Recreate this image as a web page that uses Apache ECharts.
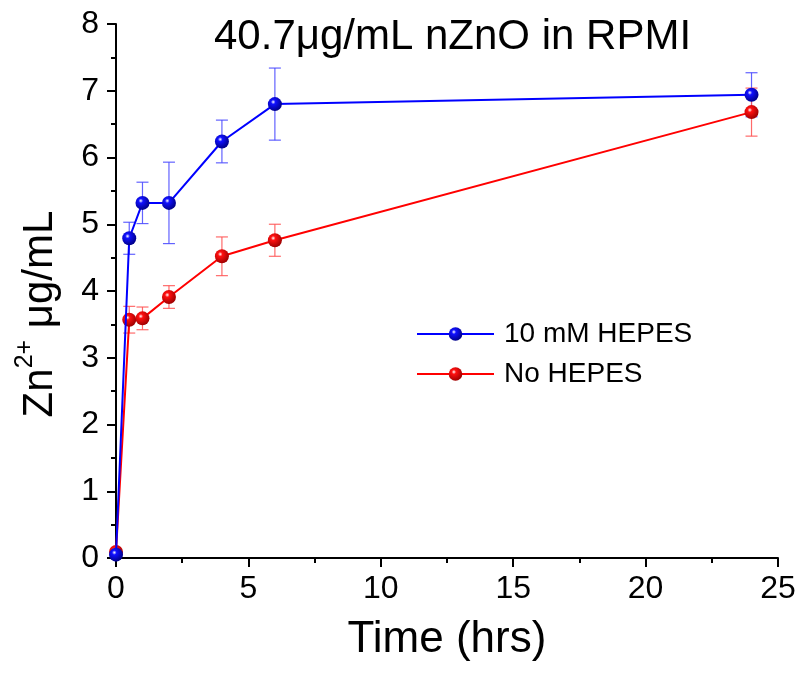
<!DOCTYPE html>
<html>
<head>
<meta charset="utf-8">
<script src="https://cdn.jsdelivr.net/npm/echarts@6/dist/echarts.min.js"></script>
<style>html,body{margin:0;padding:0;background:#fff;}#main{width:800px;height:677px;}</style>
</head>
<body>
<div id="main"></div>
<script>
const timeHrs = [0, 0.5, 1, 2, 4, 6, 24];
const hepes = [0.05, 4.79, 5.32, 5.32, 6.24, 6.80, 6.94];
const hepesErr = [0, 0.24, 0.31, 0.61, 0.32, 0.54, 0.33];
const noHepes = [0.09, 3.57, 3.59, 3.91, 4.52, 4.76, 6.68];
const noHepesErr = [0, 0.20, 0.17, 0.17, 0.29, 0.24, 0.36];
const seriesNames = ['10 mM HEPES', 'No HEPES'];
const titleText = '40.7\u03bcg/mL nZnO in RPMI';

const FONT = 'Liberation Sans, Arial, sans-serif';

function ball(c, dark) {
  return {
    type: 'radial', x: 0.38, y: 0.35, r: 0.65,
    colorStops: [
      { offset: 0, color: '#ffffff' },
      { offset: 0.25, color: c },
      { offset: 1, color: dark }
    ]
  };
}

function errSeries(vals, errs, color) {
  const data = timeHrs.map((t, i) => [t, vals[i], errs[i]]);
  return {
    type: 'custom',
    data: data,
    z: 1,
    silent: true,
    renderItem: function (params, api) {
      const x = api.value(0), y = api.value(1), e = api.value(2);
      if (!e) return null;
      const top = api.coord([x, y + e]);
      const bot = api.coord([x, y - e]);
      const hw = 6;
      const st = { stroke: color, lineWidth: 1.2 };
      return {
        type: 'group',
        children: [
          { type: 'line', shape: { x1: top[0], y1: top[1], x2: bot[0], y2: bot[1] }, style: st },
          { type: 'line', shape: { x1: top[0] - hw, y1: top[1], x2: top[0] + hw, y2: top[1] }, style: st },
          { type: 'line', shape: { x1: bot[0] - hw, y1: bot[1], x2: bot[0] + hw, y2: bot[1] }, style: st }
        ]
      };
    }
  };
}

const chart = echarts.init(document.getElementById('main'));
chart.setOption({
  backgroundColor: '#fff',
  animation: false,
  title: {
    text: titleText,
    left: 214, top: 16, padding: 0,
    textStyle: { fontFamily: FONT, fontSize: 42, fontWeight: 'normal', color: '#000' }
  },
  legend: {
    orient: 'vertical',
    left: 416, top: 320,
    itemWidth: 77, itemHeight: 17, itemGap: 12,
    padding: 0,
    data: seriesNames,
    textStyle: { fontFamily: FONT, fontSize: 28, color: '#000', padding: [0, 0, 0, 5] }
  },
  grid: { left: 116, right: 22, top: 24, bottom: 119 },
  xAxis: {
    type: 'value', min: 0, max: 25, interval: 5,
    name: 'Time (hrs)', nameLocation: 'middle', nameGap: 60,
    nameTextStyle: { fontFamily: FONT, fontSize: 44, color: '#000' },
    axisLine: { lineStyle: { color: '#000', width: 2 } },
    axisTick: { length: 9, lineStyle: { color: '#000', width: 2 } },
    minorTick: { show: true, splitNumber: 2, length: 5, lineStyle: { color: '#000', width: 2 } },
    splitLine: { show: false },
    axisLabel: { fontFamily: FONT, fontSize: 32, color: '#000', margin: 15 }
  },
  yAxis: {
    type: 'value', min: 0, max: 8, interval: 1, offset: 3,
    name: '{a|Zn}{s|2+}{a| \u03bcg/mL}', nameLocation: 'middle', nameGap: 52, nameRotate: 90,
    nameTextStyle: {
      fontFamily: FONT, fontSize: 42, color: '#000',
      padding: [0, 46, 0, 0],
      rich: {
        a: { fontFamily: FONT, fontSize: 42, color: '#000', lineHeight: 48, verticalAlign: 'bottom' },
        s: { fontFamily: FONT, fontSize: 25, color: '#000', lineHeight: 48, verticalAlign: 'top' }
      }
    },
    axisLine: { show: true, lineStyle: { color: '#000', width: 2 } },
    axisTick: { show: true, length: 9, lineStyle: { color: '#000', width: 2 } },
    minorTick: { show: true, splitNumber: 2, length: 5, lineStyle: { color: '#000', width: 2 } },
    splitLine: { show: false },
    axisLabel: { fontFamily: FONT, fontSize: 32, color: '#000', margin: 14 }
  },
  series: [
    errSeries(hepes, hepesErr, 'rgba(70,70,255,0.85)'),
    errSeries(noHepes, noHepesErr, 'rgba(255,80,80,0.85)'),
    {
      name: seriesNames[0], type: 'line', z: 3,
      data: timeHrs.map((t, i) => [t, hepes[i]]),
      symbol: 'circle', symbolSize: 14, clip: false,
      lineStyle: { color: '#0000ff', width: 2 },
      itemStyle: { color: ball('#1010ff', '#00008a') }
    },
    {
      name: seriesNames[1], type: 'line', z: 2,
      data: timeHrs.map((t, i) => [t, noHepes[i]]),
      symbol: 'circle', symbolSize: 14, clip: false,
      lineStyle: { color: '#ff0000', width: 2 },
      itemStyle: { color: ball('#ff1010', '#a00000') }
    }
  ]
});
</script>
</body>
</html>
